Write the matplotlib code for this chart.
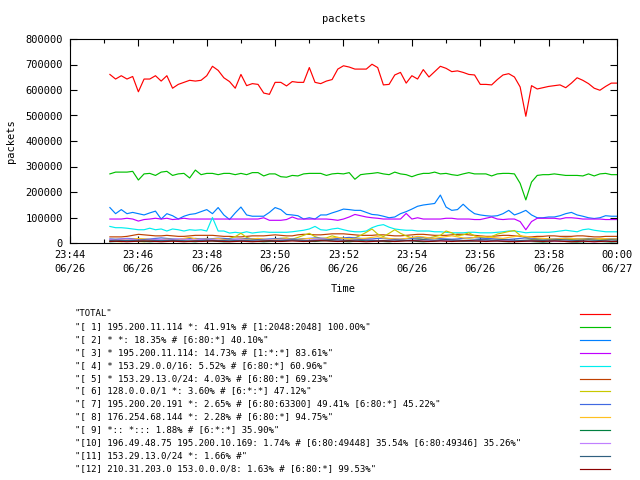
import datetime as dt
import matplotlib
matplotlib.use('Agg')
import matplotlib.pyplot as plt
import matplotlib.dates as mdates
from matplotlib.ticker import FuncFormatter

plt.rcParams['font.family'] = ['DejaVu Sans Mono', 'DejaVu Sans']

# samples every 10 s, values in thousands of packets
start = dt.datetime(2009, 6, 26, 23, 45, 10)
times = [start + dt.timedelta(seconds=10 * i) for i in range(90)]

total = [661,643,656,643,653,593,643,643,656,635,656,607,622,630,638,635,638,656,693,677,648,633,607,661,617,625,622,588,583,630,
         630,616,633,630,630,688,630,625,635,641,682,695,690,682,682,682,701,688,620,622,659,669,627,656,643,680,651,672,
         693,685,672,675,669,661,659,622,622,620,641,659,664,651,612,497,617,604,609,614,617,620,609,627,648,638,625,607,599,614,627,627]
s1 = [271,278,278,278,281,247,271,273,265,278,281,265,271,273,255,286,268,273,273,268,273,273,268,273,268,276,276,263,271,271,260,258,265,263,271,273,273,273,265,271,273,271,276,250,
      268,271,273,276,271,268,278,271,268,260,268,273,273,278,271,273,268,265,271,276,271,271,271,263,271,273,273,271,234,169,239,265,268,268,271,268,265,265,265,263,271,263,271,273,268,268]
s2 = [139,115,131,115,120,115,110,118,125,94,115,107,94,105,112,115,123,131,115,139,110,92,118,141,110,105,105,105,120,139,
      131,112,110,107,94,99,94,110,110,118,125,133,131,128,128,120,112,110,105,99,102,115,123,133,144,149,152,155,
      188,141,128,131,152,131,115,110,107,105,107,115,128,110,118,128,110,99,99,102,102,107,115,120,110,105,99,96,99,107,105,105]
s3 = [94,94,94,97,94,86,92,94,97,94,97,92,94,97,94,94,94,94,94,94,94,94,94,94,94,94,94,99,89,89,
      89,92,102,94,94,94,94,94,94,92,89,94,102,112,107,102,99,97,94,94,94,94,116,94,99,94,94,94,
      94,97,97,94,94,94,92,92,97,102,94,92,94,94,84,52,84,97,97,97,97,94,99,99,97,94,94,94,94,92,92,92]
s4 = [65,60,60,58,55,52,52,58,52,55,47,55,52,47,52,50,52,47,100,47,47,39,42,39,44,39,42,44,42,42,
      42,42,44,47,50,55,65,52,50,55,58,52,47,44,44,47,60,68,72,62,55,52,50,50,47,47,47,44,
      44,42,40,40,40,42,42,40,40,40,42,44,47,47,44,40,42,42,42,42,44,47,50,47,44,52,55,50,47,44,44,44]
s5 = [24,24,24,26,30,34,32,30,28,28,30,28,26,26,28,30,30,30,30,28,26,26,24,24,26,28,28,28,30,32,
      30,28,28,32,34,34,32,32,34,36,36,36,34,32,30,30,30,32,32,30,28,28,30,32,34,34,32,30,
      30,30,32,34,34,32,30,28,26,26,28,30,30,28,26,24,24,26,26,28,28,26,26,26,28,28,26,24,24,26,26,26]
s6 = [8,6,5,8,10,6,5,8,10,12,10,8,12,15,12,10,14,18,12,10,12,18,25,38,22,15,12,10,12,15,
      18,20,15,22,30,38,25,18,20,28,22,18,15,20,30,42,55,35,25,38,52,38,28,20,18,15,20,25,
      30,47,40,28,32,40,28,22,20,25,35,40,45,49,30,20,15,14,16,15,14,16,15,14,15,16,18,16,15,14,15,16]
s7 = [16,15,16,18,17,16,15,16,18,20,18,16,15,16,17,18,16,15,17,19,18,16,15,16,18,17,16,15,16,17,
      18,17,16,15,17,18,20,19,17,16,18,20,22,20,18,17,16,18,19,17,16,15,17,18,20,21,19,18,
      17,16,15,16,18,20,21,19,18,17,16,15,14,16,18,20,19,17,16,15,16,18,19,18,16,15,16,17,18,17,16,16]
s8 = [12,14,13,12,15,18,16,14,12,13,15,14,12,18,22,16,14,13,15,17,14,12,13,15,14,16,18,15,13,14,
      15,17,14,13,16,18,15,14,16,20,22,18,16,15,17,19,22,25,20,18,16,15,18,22,26,24,20,18,
      22,25,28,24,20,18,22,26,24,22,20,18,22,25,28,26,22,20,18,16,15,17,19,18,16,15,14,16,18,17,15,16]
s9 = [5,6,8,10,9,7,6,5,6,8,9,10,8,7,6,5,7,9,8,6,5,6,8,10,9,7,6,5,6,7,
      8,10,12,10,8,7,6,8,10,9,7,6,5,7,9,11,10,8,6,5,7,9,10,8,6,5,6,8,
      10,12,11,9,7,6,8,10,12,10,8,6,5,7,9,8,6,5,4,5,7,8,6,5,4,5,6,7,6,5,4,5]
s10 = [14,13,15,16,14,12,13,15,14,13,12,14,16,15,13,12,14,15,13,12,10,12,14,13,11,10,12,13,12,11,
       12,14,13,11,10,12,14,16,15,13,12,11,10,12,14,13,12,10,9,11,13,12,10,9,10,12,11,10,
       9,10,12,11,9,8,10,12,11,9,8,10,11,9,8,7,8,10,9,8,7,6,8,9,8,7,6,5,6,7,6,6]
s11 = [10,11,10,9,10,11,12,11,10,9,10,11,10,9,8,9,10,11,10,9,10,11,10,9,10,11,12,11,10,9,
       10,11,12,11,10,9,10,11,12,13,12,11,10,11,12,11,10,9,10,11,12,11,10,11,12,13,12,11,
       12,13,12,11,10,11,12,13,12,11,12,13,12,11,10,11,12,11,10,11,12,13,12,11,10,11,12,11,10,11,12,11]
s12 = [6,7,6,5,6,7,8,7,6,5,6,7,6,5,6,7,6,7,8,7,6,5,6,7,6,5,6,7,8,7,
       6,7,8,7,6,7,8,9,8,7,6,7,8,7,6,5,6,7,8,7,6,7,8,9,8,7,6,7,
       8,7,6,7,8,9,8,7,6,7,8,7,6,5,6,7,8,7,6,7,8,7,6,5,6,7,6,5,6,7,6,6]

series = [total, s1, s2, s3, s4, s5, s6, s7, s8, s9, s10, s11, s12]
labels = ['"TOTAL"',
          '"[ 1] 195.200.11.114 *: 41.91% # [1:2048:2048] 100.00%"',
          '"[ 2] * *: 18.35% # [6:80:*] 40.10%"',
          '"[ 3] * 195.200.11.114: 14.73% # [1:*:*] 83.61%"',
          '"[ 4] * 153.29.0.0/16: 5.52% # [6:80:*] 60.96%"',
          '"[ 5] * 153.29.13.0/24: 4.03% # [6:80:*] 69.23%"',
          '"[ 6] 128.0.0.0/1 *: 3.60% # [6:*:*] 47.12%"',
          '"[ 7] 195.200.20.191 *: 2.65% # [6:80:63300] 49.41% [6:80:*] 45.22%"',
          '"[ 8] 176.254.68.144 *: 2.28% # [6:80:*] 94.75%"',
          '"[ 9] *:: *::: 1.88% # [6:*:*] 35.90%"',
          '"[10] 196.49.48.75 195.200.10.169: 1.74% # [6:80:49448] 35.54% [6:80:49346] 35.26%"',
          '"[11] 153.29.13.0/24 *: 1.66% #"',
          '"[12] 210.31.203.0 153.0.0.0/8: 1.63% # [6:80:*] 99.53%"']
colors = ['#ff0000', '#00c000', '#0080ff', '#c000ff', '#00eeee', '#c04000', '#c8c800',
          '#4169e1', '#ffc020', '#008040', '#c080ff', '#306080', '#8b0000']

fig = plt.figure(figsize=(6.4, 4.8), dpi=100)
ax = fig.add_axes([70/640, 1 - 243/480, 547/640, 204/480])

for vals, c in zip(series, colors):
    ax.plot(times, [v * 1000 for v in vals], color=c, lw=0.85)

ax.set_xlim(dt.datetime(2009, 6, 26, 23, 44), dt.datetime(2009, 6, 27, 0, 0))
ax.set_ylim(0, 800000)
ax.set_yticks(range(0, 800001, 100000))
ax.yaxis.set_major_formatter(FuncFormatter(lambda v, p: '%d' % v))
ax.xaxis.set_major_locator(mdates.MinuteLocator(byminute=range(0, 60, 2)))
ax.xaxis.set_minor_locator(mdates.MinuteLocator())
ax.xaxis.set_major_formatter(mdates.DateFormatter('%H:%M\n%m/%d'))
ax.tick_params(which='both', direction='in', top=True, right=True, labelsize=7.5, width=0.8)
ax.tick_params(which='major', length=5)
ax.tick_params(which='minor', length=3)
ax.tick_params(axis='y', pad=5)
ax.tick_params(axis='x', pad=5)
for sp in ax.spines.values():
    sp.set_linewidth(0.8)
for lbl in ax.get_xticklabels():
    lbl.set_linespacing(1.55)

ax.set_title('packets', fontsize=7.5, pad=12)
ax.set_ylabel('packets', fontsize=7.5, labelpad=7)
ax.set_xlabel('Time', fontsize=7.5, labelpad=7)

# key below the plot, in pixel coordinates
lax = fig.add_axes([0, 0, 1, 1])
lax.set_xlim(0, 640)
lax.set_ylim(480, 0)
lax.axis('off')
for i, (lab, c) in enumerate(zip(labels, colors)):
    y = round(313 + i * 12.9) + 0.5
    lax.text(75, y, lab, fontsize=6.45, va='center', ha='left')
    lax.plot([580, 610], [y, y], color=c, lw=0.85)

fig.savefig('out.png', dpi=100)
